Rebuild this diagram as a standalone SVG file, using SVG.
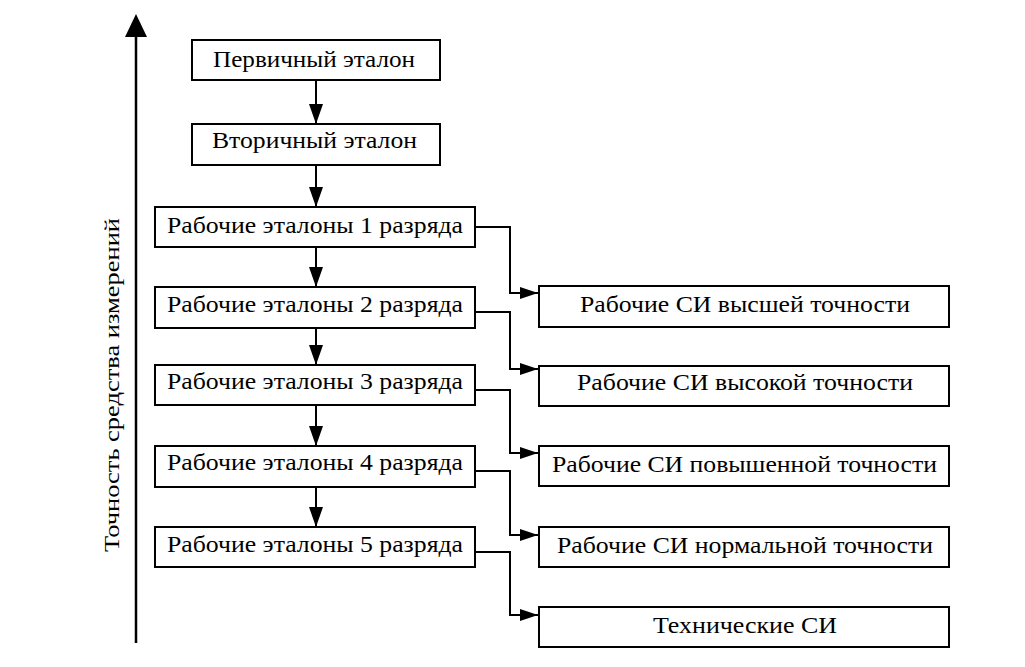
<svg xmlns="http://www.w3.org/2000/svg" width="1025" height="667" viewBox="0 0 1025 667">
<style>
.box{fill:#fff;stroke:#000;stroke-width:2}
.c{fill:none;stroke:#000;stroke-width:2}
</style>
<defs>
<marker id="av" markerUnits="userSpaceOnUse" markerWidth="22" markerHeight="16" refX="20" refY="7" orient="auto">
<path d="M0,0 L20,7 L0,14 Z" fill="#000"/>
</marker>
<marker id="ah" markerUnits="userSpaceOnUse" markerWidth="20" markerHeight="14" refX="18" refY="6" orient="auto">
<path d="M0,0 L18,6 L0,12 Z" fill="#000"/>
</marker>
</defs>
<rect width="1025" height="667" fill="#fff"/>
<g id="axis">
<line x1="136" y1="643" x2="136" y2="36" stroke="#000" stroke-width="2.5"/>
<polygon points="136,14 125,37 147,37" fill="#000"/>
<text font-family="Liberation Serif" font-size="22" text-anchor="middle" transform="translate(119,385) rotate(-90)" textLength="334" lengthAdjust="spacingAndGlyphs">Точность средства измерений</text>
</g>
<g id="connectors">
<line class="c" x1="316" y1="80" x2="316" y2="124" marker-end="url(#av)"/>
<line class="c" x1="316" y1="165" x2="316" y2="207" marker-end="url(#av)"/>
<line class="c" x1="316" y1="247" x2="316" y2="287" marker-end="url(#av)"/>
<line class="c" x1="316" y1="328" x2="316" y2="365" marker-end="url(#av)"/>
<line class="c" x1="316" y1="405" x2="316" y2="446" marker-end="url(#av)"/>
<line class="c" x1="316" y1="487" x2="316" y2="527" marker-end="url(#av)"/>
<polyline class="c" points="475,227 510,227 510,293 538,293" marker-end="url(#ah)"/>
<polyline class="c" points="475,312 510,312 510,369 538,369" marker-end="url(#ah)"/>
<polyline class="c" points="475,390 510,390 510,453 538,453" marker-end="url(#ah)"/>
<polyline class="c" points="475,471 510,471 510,535 538,535" marker-end="url(#ah)"/>
<polyline class="c" points="475,552 510,552 510,615 538,615" marker-end="url(#ah)"/>
</g>
<g font-family="Liberation Serif" font-size="24" text-anchor="middle">
<g id="n1"><rect class="box" x="192" y="40" width="248" height="40"/><text x="314" y="67" textLength="202" lengthAdjust="spacingAndGlyphs">Первичный эталон</text></g>
<g id="n2"><rect class="box" x="192" y="124" width="248" height="41"/><text x="314.5" y="148" textLength="205" lengthAdjust="spacingAndGlyphs">Вторичный эталон</text></g>
<g id="n3"><rect class="box" x="155" y="207" width="320" height="40"/><text x="315" y="233" textLength="296" lengthAdjust="spacingAndGlyphs">Рабочие эталоны 1 разряда</text></g>
<g id="n4"><rect class="box" x="155" y="287" width="320" height="41"/><text x="315" y="312" textLength="296" lengthAdjust="spacingAndGlyphs">Рабочие эталоны 2 разряда</text></g>
<g id="n5"><rect class="box" x="155" y="365" width="320" height="40"/><text x="315" y="389" textLength="296" lengthAdjust="spacingAndGlyphs">Рабочие эталоны 3 разряда</text></g>
<g id="n6"><rect class="box" x="155" y="446" width="320" height="41"/><text x="315" y="470" textLength="296" lengthAdjust="spacingAndGlyphs">Рабочие эталоны 4 разряда</text></g>
<g id="n7"><rect class="box" x="155" y="527" width="320" height="40"/><text x="315" y="552" textLength="296" lengthAdjust="spacingAndGlyphs">Рабочие эталоны 5 разряда</text></g>
<g id="r1"><rect class="box" x="539" y="286" width="410" height="41"/><text x="745" y="312" textLength="330" lengthAdjust="spacingAndGlyphs">Рабочие СИ высшей точности</text></g>
<g id="r2"><rect class="box" x="539" y="366" width="410" height="40"/><text x="745" y="390" textLength="336" lengthAdjust="spacingAndGlyphs">Рабочие СИ высокой точности</text></g>
<g id="r3"><rect class="box" x="539" y="446" width="410" height="40"/><text x="744.5" y="472" textLength="385" lengthAdjust="spacingAndGlyphs">Рабочие СИ повышенной точности</text></g>
<g id="r4"><rect class="box" x="539" y="527" width="410" height="40"/><text x="745" y="553" textLength="376" lengthAdjust="spacingAndGlyphs">Рабочие СИ нормальной точности</text></g>
<g id="r5"><rect class="box" x="539" y="607" width="410" height="40"/><text x="745" y="633" textLength="184" lengthAdjust="spacingAndGlyphs">Технические СИ</text></g>
</g>
</svg>
